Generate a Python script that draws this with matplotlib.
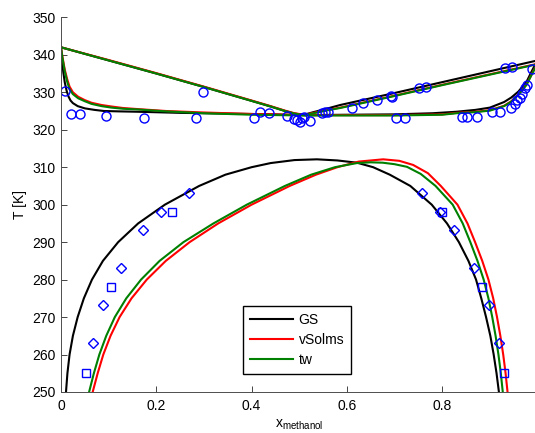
import numpy as np
import matplotlib
matplotlib.use("Agg")
import matplotlib.pyplot as plt

plt.rcParams["font.family"] = ["Liberation Sans", "DejaVu Sans"]
plt.rcParams["font.size"] = 10

# --- VLE: dew (upper) and bubble (lower) curves for each model ---
gs_dew_x = [0.0, 0.1, 0.2, 0.3, 0.4, 0.44, 0.47, 0.49, 0.51, 0.53, 0.56, 0.586, 0.65, 0.7, 0.8, 0.9, 1.0]
gs_dew_T = [342.0, 338.5, 335.0, 331.4, 327.7, 326.2, 325.0, 324.3, 324.0, 324.7, 325.7, 326.6, 328.4, 329.8, 332.7, 335.6, 338.5]
tw_dew_x = [0.0, 0.1, 0.2, 0.3, 0.4, 0.44, 0.47, 0.49, 0.51, 0.53, 0.56, 0.586, 0.65, 0.7, 0.8, 0.9, 1.0]
tw_dew_T = [342.0, 338.5, 335.0, 331.4, 327.7, 326.2, 325.0, 324.3, 323.9, 324.4, 325.2, 325.8, 327.6, 329.0, 331.9, 334.7, 337.5]
vs_dew_x = tw_dew_x
vs_dew_T = [342.0, 338.6, 335.1, 331.5, 327.8, 326.3, 325.1, 324.4, 324.0, 324.5, 325.3, 325.9, 327.7, 329.1, 332.0, 334.8, 337.6]

gs_bub_x = [0.0, 0.001, 0.003, 0.005, 0.008, 0.012, 0.016, 0.02, 0.025, 0.035, 0.05, 0.07, 0.09, 0.12, 0.16,
            0.25, 0.35, 0.45, 0.51, 0.6, 0.7, 0.78, 0.83, 0.87, 0.9, 0.93, 0.945, 0.96, 0.977, 0.989, 1.0]
gs_bub_T = [342.0, 340.0, 337.4, 335.2, 332.6, 330.3, 328.8, 327.8, 327.1, 326.3, 325.7, 325.3, 325.0, 324.9, 324.8,
            324.5, 324.3, 324.1, 323.9, 324.0, 324.1, 324.4, 324.8, 325.3, 325.9, 327.4, 328.6, 330.2, 332.8, 335.9, 338.5]
vs_bub_x = [0.0, 0.003, 0.008, 0.013, 0.018, 0.025, 0.036, 0.05, 0.064, 0.085, 0.106, 0.13, 0.162, 0.22,
            0.3, 0.4, 0.51, 0.7, 0.8, 0.83, 0.87, 0.9, 0.93, 0.945, 0.96, 0.977, 0.991, 1.0]
vs_bub_T = [342.0, 339.5, 336.0, 333.5, 331.5, 330.0, 328.8, 327.9, 327.2, 326.6, 326.2, 325.8, 325.5, 325.0,
            324.6, 324.2, 323.9, 323.9, 324.1, 324.5, 324.8, 325.2, 326.4, 327.6, 329.4, 332.1, 335.6, 337.6]
tw_bub_x = [0.0, 0.003, 0.008, 0.013, 0.018, 0.025, 0.036, 0.05, 0.064, 0.085, 0.106, 0.13, 0.162, 0.22,
            0.3, 0.4, 0.51, 0.7, 0.8, 0.83, 0.87, 0.9, 0.93, 0.945, 0.96, 0.977, 0.991, 1.0]
tw_bub_T = [342.0, 339.2, 335.5, 332.8, 330.8, 329.5, 328.4, 327.6, 326.9, 326.3, 325.9, 325.6, 325.4, 324.9,
            324.4, 324.0, 323.8, 323.8, 324.0, 324.4, 324.7, 325.1, 326.3, 327.5, 329.3, 332.0, 335.5, 337.6]

# --- LLE binodal curves ---
gs_lle_x = [0.0105, 0.0135, 0.018, 0.025, 0.035, 0.048, 0.065, 0.088, 0.12, 0.162, 0.218, 0.29, 0.345, 0.40,
            0.44, 0.49, 0.537, 0.58, 0.621, 0.655, 0.69, 0.733, 0.778, 0.81, 0.835, 0.855, 0.871, 0.882,
            0.892, 0.901, 0.908, 0.914, 0.9195]
gs_lle_T = [250.0, 255.0, 260.0, 265.0, 270.0, 275.0, 280.0, 285.0, 290.0, 295.0, 300.0, 305.0, 308.0, 310.0,
            311.1, 311.9, 312.1, 311.8, 311.2, 310.0, 308.0, 305.0, 300.0, 295.0, 290.0, 285.0, 280.0, 275.0,
            270.0, 265.0, 260.0, 255.0, 249.5]
vs_lle_x = [0.0665, 0.077, 0.0888, 0.104, 0.123, 0.148, 0.18, 0.22, 0.27, 0.33, 0.40, 0.48, 0.535, 0.58,
            0.625, 0.676, 0.71, 0.739, 0.77, 0.797, 0.832, 0.853, 0.869, 0.884, 0.897, 0.907, 0.915, 0.922,
            0.928, 0.933, 0.9375]
vs_lle_T = [250.0, 255.0, 260.0, 265.0, 270.0, 275.0, 280.0, 285.0, 290.0, 295.0, 300.0, 305.0, 308.0, 310.0,
            311.5, 312.1, 311.7, 310.6, 308.4, 305.0, 300.0, 295.0, 290.0, 285.0, 280.0, 275.0, 270.0, 265.0,
            260.0, 255.0, 249.5]
tw_lle_x = [0.059, 0.069, 0.0805, 0.095, 0.113, 0.137, 0.168, 0.207, 0.257, 0.32, 0.39, 0.47, 0.525, 0.575,
            0.621, 0.65, 0.675, 0.70, 0.726, 0.755, 0.786, 0.822, 0.843, 0.859, 0.874, 0.887, 0.897, 0.905,
            0.912, 0.918, 0.923, 0.9275]
tw_lle_T = [250.0, 255.0, 260.0, 265.0, 270.0, 275.0, 280.0, 285.0, 290.0, 295.0, 300.0, 305.0, 308.0, 310.0,
            311.1, 311.3, 311.2, 310.8, 310.1, 308.2, 305.0, 300.0, 295.0, 290.0, 285.0, 280.0, 275.0, 270.0,
            265.0, 260.0, 255.0, 249.5]

# --- experimental data ---
vle_x = [0.008, 0.022, 0.040, 0.094, 0.174, 0.283, 0.299, 0.404, 0.417, 0.436, 0.475, 0.489, 0.496, 0.502,
         0.505, 0.511, 0.523, 0.547, 0.554, 0.561, 0.610, 0.633, 0.663, 0.692, 0.694, 0.702, 0.722, 0.752,
         0.767, 0.842, 0.851, 0.872, 0.904, 0.921, 0.932, 0.947, 0.944, 0.952, 0.957, 0.963, 0.968, 0.974,
         0.977, 0.989]
vle_T = [330.3, 324.3, 324.3, 323.7, 323.1, 323.1, 330.1, 323.1, 324.6, 324.5, 323.6, 322.9, 322.6, 322.1,
         323.2, 323.5, 322.2, 324.4, 324.8, 324.8, 325.8, 327.0, 327.9, 328.9, 328.7, 323.1, 323.1, 331.1,
         331.4, 323.4, 323.4, 323.5, 324.6, 324.8, 336.4, 336.7, 325.9, 326.9, 327.8, 328.6, 329.5, 331.1,
         331.9, 336.3]
lle1_x = [0.067, 0.089, 0.126, 0.173, 0.210, 0.269, 0.757, 0.796, 0.825, 0.867, 0.899, 0.920]
lle1_T = [263.15, 273.15, 283.15, 293.15, 298.15, 303.15, 303.15, 298.15, 293.15, 283.15, 273.15, 263.15]
lle2_x = [0.052, 0.104, 0.232, 0.799, 0.884, 0.930]
lle2_T = [255.15, 278.15, 298.15, 298.15, 278.15, 255.15]

BLUE = (0, 0, 1)
models = [
    ("GS", "k", gs_dew_x, gs_dew_T, gs_bub_x, gs_bub_T, gs_lle_x, gs_lle_T),
    ("vSolms", (1, 0, 0), vs_dew_x, vs_dew_T, vs_bub_x, vs_bub_T, vs_lle_x, vs_lle_T),
    ("tw", (0, 0.5, 0), tw_dew_x, tw_dew_T, tw_bub_x, tw_bub_T, tw_lle_x, tw_lle_T),
]

fig = plt.figure(figsize=(5.35, 4.33), dpi=100)
ax = fig.add_axes([0.114, 0.0947, 0.8907, 0.8653])

handles = []
for name, col, dx, dT, bx, bT, lx, lT in models:
    h, = ax.plot(lx, lT, color=col, lw=1.5, label=name)
    ax.plot(dx, dT, color=col, lw=1.5)
    ax.plot(bx, bT, color=col, lw=1.5)
    handles.append(h)

ax.plot(vle_x, vle_T, "o", ms=6.5, mfc="none", mec=BLUE, mew=1.0)
ax.plot(lle1_x, lle1_T, "D", ms=5.5, mfc="none", mec=BLUE, mew=1.0)
ax.plot(lle2_x, lle2_T, "s", ms=5.5, mfc="none", mec=BLUE, mew=1.0)

ax.set_xlim(0, 1)
ax.set_ylim(250, 350)
ax.set_xticks(np.arange(0, 1.01, 0.2))
ax.set_xticklabels(["0", "0.2", "0.4", "0.6", "0.8", "1"])
ax.set_yticks(np.arange(250, 351, 10))
ax.tick_params(direction="in", length=4, width=0.6, colors="0.15", labelcolor="k")
ax.tick_params(axis="x", pad=5)
ax.tick_params(axis="y", pad=4)
for s in ("top", "right"):
    ax.spines[s].set_visible(False)
for s in ("left", "bottom"):
    ax.spines[s].set_linewidth(0.7)
    ax.spines[s].set_color("0.3")

ax.set_ylabel("T [K]", labelpad=4)
ax.set_xlabel(r"$\mathregular{x_{methanol}}$", labelpad=3)

leg = ax.legend(handles=handles, loc="lower left", bbox_to_anchor=(0.382, 0.048),
                borderaxespad=0, fancybox=False, framealpha=1, edgecolor="k",
                handlelength=3.1, handletextpad=0.4, labelspacing=0.45, borderpad=0.5)
leg.get_frame().set_linewidth(1.0)

fig.savefig("out.png", dpi=100, facecolor="white")
